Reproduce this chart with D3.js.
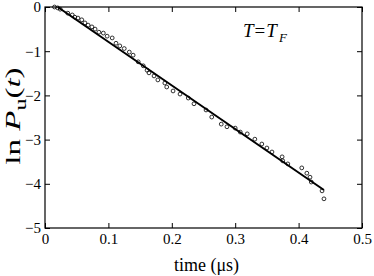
<!DOCTYPE html>
<html lang="en">
<head>
<meta charset="UTF-8">
<title>ln Pu(t) vs time</title>
<script src="https://d3js.org/d3.v7.min.js"></script>
<style>
  body { margin: 0; background: #fff; }
  svg text { font-family: "Liberation Serif", "DejaVu Serif", serif; fill: #000; }
</style>
</head>
<body>
<svg width="374" height="276"></svg>
<script>
// data
var timeUs = [0.015, 0.020, 0.024, 0.036, 0.043, 0.047, 0.052, 0.058, 0.063, 0.068, 0.074, 0.079,
              0.085, 0.092, 0.098, 0.106, 0.112, 0.118, 0.125, 0.133, 0.139, 0.147, 0.155, 0.161,
              0.164, 0.172, 0.178, 0.189, 0.192, 0.202, 0.213, 0.226, 0.235, 0.254, 0.263, 0.278,
              0.287, 0.300, 0.308, 0.319, 0.331, 0.342, 0.350, 0.358, 0.374, 0.375, 0.383, 0.405,
              0.413, 0.418, 0.420, 0.437, 0.440];
var lnPu = [0.0, -0.02, -0.05, -0.14, -0.18, -0.23, -0.25, -0.29, -0.36, -0.41, -0.45, -0.50,
            -0.57, -0.59, -0.66, -0.70, -0.82, -0.88, -0.94, -1.02, -1.09, -1.24, -1.33, -1.43,
            -1.49, -1.56, -1.65, -1.72, -1.81, -1.90, -1.97, -2.06, -2.19, -2.33, -2.49, -2.65,
            -2.71, -2.74, -2.83, -2.87, -2.99, -3.10, -3.19, -3.28, -3.39, -3.48, -3.55, -3.64,
            -3.76, -3.85, -3.96, -4.16, -4.34];
var fitX = [0.02, 0.44];
var fitY = [0.0, -4.14];
var xTicks = [0, 0.1, 0.2, 0.3, 0.4, 0.5];
var yTicks = [0, -1, -2, -3, -4, -5];

var svg = d3.select("svg"),
    margin = {top: 7, right: 12, bottom: 48, left: 45},
    width = 374 - margin.left - margin.right,
    height = 276 - margin.top - margin.bottom;

var x = d3.scaleLinear().domain([0, 0.5]).range([0, width]),
    y = d3.scaleLinear().domain([-5, 0]).range([height, 0]);

var g = svg.append("g")
    .attr("transform", "translate(" + margin.left + "," + margin.top + ")");

var tickLen = 5;

// bottom axis with labels
var xb = g.append("g")
    .attr("transform", "translate(0," + height + ")")
    .call(d3.axisBottom(x).tickValues(xTicks).tickSizeInner(-tickLen).tickSizeOuter(0)
          .tickPadding(5).tickFormat(function(d) { return d3.format("")(d); }));
// top axis, ticks only
var xt = g.append("g")
    .call(d3.axisTop(x).tickValues(xTicks).tickSizeInner(-tickLen).tickSizeOuter(0).tickFormat(""));
// left axis with labels
var yl = g.append("g")
    .call(d3.axisLeft(y).tickValues(yTicks).tickSizeInner(-tickLen).tickSizeOuter(0)
          .tickPadding(4).tickFormat(d3.format("d")));
// right axis, ticks only
var yr = g.append("g")
    .attr("transform", "translate(" + width + ",0)")
    .call(d3.axisRight(y).tickValues(yTicks).tickSizeInner(-tickLen).tickSizeOuter(0).tickFormat(""));

[xb, xt, yl, yr].forEach(function(a) {
  a.attr("font-family", "Liberation Serif").attr("font-size", 15);
  a.select(".domain").remove();
  a.selectAll("line").attr("stroke", "#000").attr("stroke-width", 1);
});

g.append("rect")
    .attr("width", width).attr("height", height)
    .attr("fill", "none").attr("stroke", "#000").attr("stroke-width", 1.2);

// fitted line
g.append("line")
    .attr("x1", x(fitX[0])).attr("y1", y(fitY[0]))
    .attr("x2", x(fitX[1])).attr("y2", y(fitY[1]))
    .attr("stroke", "#000").attr("stroke-width", 2);

// data points
g.selectAll(".pt")
    .data(timeUs)
    .enter().append("circle")
    .attr("class", "pt")
    .attr("cx", function(d) { return x(d); })
    .attr("cy", function(d, i) { return y(lnPu[i]); })
    .attr("r", 1.9)
    .attr("fill", "none")
    .attr("stroke", "#000")
    .attr("stroke-width", 0.8);

// annotation
var ann = svg.append("text")
    .attr("x", 243).attr("y", 37)
    .attr("font-size", 19);
ann.append("tspan").attr("font-style", "italic").text("T");
ann.append("tspan").attr("dx", 1).text("=");
ann.append("tspan").attr("dx", 1).attr("font-style", "italic").text("T");
ann.append("tspan").attr("dx", 2).attr("font-style", "italic").attr("font-size", 13).attr("dy", 5).text("F");

// axis titles
svg.append("text")
    .attr("x", margin.left + width / 2 + 3).attr("y", 271)
    .attr("text-anchor", "middle").attr("font-size", 18)
    .text("time (\u03bcs)");

// y title: the original is drawn a little stretched along its length
var yt = svg.append("text")
    .attr("font-size", 22);
yt.append("tspan").text("ln ");
yt.append("tspan").attr("font-style", "italic").text("P");
yt.append("tspan").attr("font-size", 16).attr("dy", 6).text("u");
yt.append("tspan").attr("dy", -6).text("(");
yt.append("tspan").attr("font-style", "italic").text("t");
yt.append("tspan").text(")");
var ytLen = yt.node().getComputedTextLength();
var ytScale = Math.min(1.5, 116 / ytLen);
yt.attr("transform", "translate(20," + (116 + ytLen * ytScale / 2) + ") rotate(-90) scale(" + ytScale + ",1)");
</script>
</body>
</html>
